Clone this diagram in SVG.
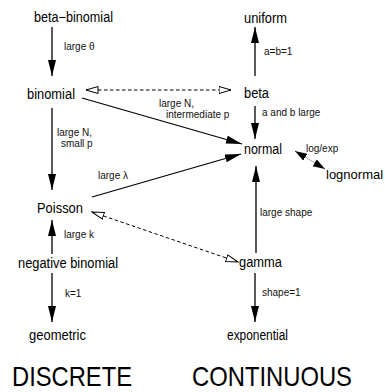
<svg xmlns="http://www.w3.org/2000/svg" width="385" height="392" viewBox="0 0 385 392">
<style>
.n{font-family:"Liberation Sans",Arial,sans-serif;font-size:14px;fill:#000}
.s{font-family:"Liberation Sans",Arial,sans-serif;font-size:10px;fill:#111}
.big{font-family:"Liberation Sans",Arial,sans-serif;font-size:28px;fill:#000}
.a{stroke:#000;stroke-width:1.3;fill:none}
.d{stroke:#000;stroke-width:1;fill:none;stroke-dasharray:3.5,2.5}
.o{stroke:#555;stroke-width:1;fill:none;stroke-dasharray:1.2,1.2}
</style>
<defs>
<marker id="h" markerUnits="userSpaceOnUse" markerWidth="17" markerHeight="9" refX="16" refY="4" orient="auto-start-reverse" viewBox="0 0 17 9">
<path d="M0,0 L16,4 L0,8 z" fill="#000"/>
</marker>
<marker id="hs" markerUnits="userSpaceOnUse" markerWidth="13" markerHeight="9" refX="12" refY="4" orient="auto-start-reverse" viewBox="0 0 13 9">
<path d="M0,0 L12,4 L0,8 z" fill="#000"/>
</marker>
<marker id="oh" markerUnits="userSpaceOnUse" markerWidth="14" markerHeight="9" refX="12.5" refY="4" orient="auto-start-reverse" viewBox="0 0 14 9">
<path d="M0.5,0.5 L12.5,4 L0.5,7.5 z" fill="#fff" stroke="#000" stroke-width="1"/>
</marker>
</defs>
<g id="connectors">
<line class="a" x1="52" y1="27" x2="52" y2="76" marker-end="url(#h)"/>
<line class="a" x1="52" y1="108" x2="52" y2="190" marker-end="url(#h)"/>
<line class="a" x1="52" y1="254" x2="52" y2="220" marker-end="url(#h)"/>
<line class="a" x1="52" y1="273" x2="52" y2="322" marker-end="url(#h)"/>
<line class="a" x1="255" y1="76" x2="255" y2="27" marker-end="url(#h)"/>
<line class="a" x1="255" y1="106" x2="255" y2="139" marker-end="url(#h)"/>
<line class="a" x1="256" y1="253" x2="256" y2="166" marker-end="url(#h)"/>
<line class="a" x1="255" y1="273" x2="255" y2="322" marker-end="url(#h)"/>
<line class="a" x1="82" y1="98" x2="242" y2="144" marker-end="url(#h)"/>
<line class="a" x1="92" y1="197" x2="241" y2="154" marker-end="url(#h)"/>
<line class="o" x1="295" y1="151" x2="325" y2="169" marker-start="url(#hs)" marker-end="url(#hs)"/>
<line class="d" x1="86" y1="90" x2="231" y2="90" marker-start="url(#oh)" marker-end="url(#oh)"/>
<line class="d" x1="92" y1="212" x2="238" y2="262" marker-start="url(#oh)" marker-end="url(#oh)"/>
</g>
<g id="labels">
<text class="s" x="64" y="50">large  θ</text>
<text class="s" x="264" y="55">a=b=1</text>
<text class="s" x="159" y="107">large N,</text>
<text class="s" x="166" y="118">intermediate p</text>
<text class="s" x="262" y="116">a and b large</text>
<text class="s" x="57" y="136">large N,</text>
<text class="s" x="61" y="147">small p</text>
<text class="s" x="98" y="179">large λ</text>
<text class="s" x="306" y="152">log/exp</text>
<text class="s" x="260" y="216">large shape</text>
<text class="s" x="64" y="238">large k</text>
<text class="s" x="65" y="297">k=1</text>
<text class="s" x="262" y="296">shape=1</text>
</g>
<g id="beta-binomial"><text class="n" x="34" y="22" textLength="79" lengthAdjust="spacingAndGlyphs">beta−binomial</text></g>
<g id="binomial"><text class="n" x="27" y="99" textLength="48" lengthAdjust="spacingAndGlyphs">binomial</text></g>
<g id="poisson"><text class="n" x="37" y="213" textLength="46" lengthAdjust="spacingAndGlyphs">Poisson</text></g>
<g id="negative-binomial"><text class="n" x="18" y="268" textLength="100" lengthAdjust="spacingAndGlyphs">negative binomial</text></g>
<g id="geometric"><text class="n" x="29" y="340" textLength="57" lengthAdjust="spacingAndGlyphs">geometric</text></g>
<g id="uniform"><text class="n" x="244" y="23" textLength="43" lengthAdjust="spacingAndGlyphs">uniform</text></g>
<g id="beta"><text class="n" x="244" y="98" textLength="25" lengthAdjust="spacingAndGlyphs">beta</text></g>
<g id="normal"><text class="n" x="244" y="154" textLength="38" lengthAdjust="spacingAndGlyphs">normal</text></g>
<g id="lognormal"><text class="n" x="326" y="179" style="font-size:13px">lognormal</text></g>
<g id="gamma"><text class="n" x="239" y="267" textLength="43" lengthAdjust="spacingAndGlyphs">gamma</text></g>
<g id="exponential"><text class="n" x="227" y="340" textLength="61" lengthAdjust="spacingAndGlyphs">exponential</text></g>
<g id="headings">
<text class="big" x="12" y="386" textLength="120" lengthAdjust="spacingAndGlyphs">DISCRETE</text>
<text class="big" x="192" y="386" textLength="160" lengthAdjust="spacingAndGlyphs">CONTINUOUS</text>
</g>
</svg>
